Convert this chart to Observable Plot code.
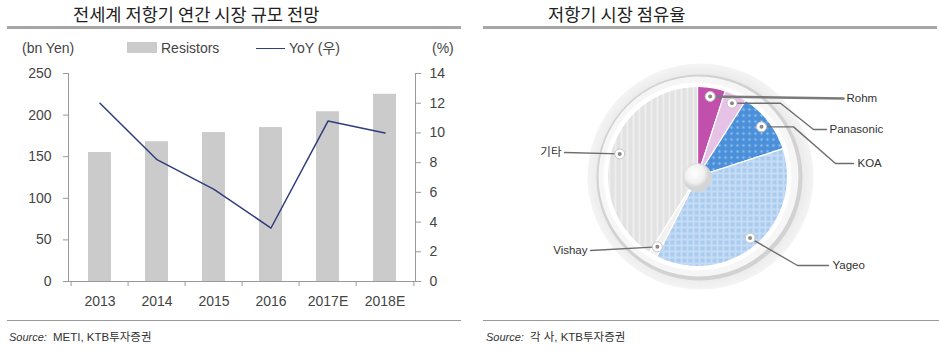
<!DOCTYPE html>
<html><head><meta charset="utf-8">
<script src="https://cdn.jsdelivr.net/npm/d3@7"></script>
<script src="https://cdn.jsdelivr.net/npm/@observablehq/plot@0.6"></script>
<style>
body{margin:0;background:#fff;font-family:"Liberation Sans",Arial,"Noto Sans CJK KR",sans-serif;}
#page{position:relative;width:941px;height:353px;overflow:hidden;background:#fff;}
.abs{position:absolute;white-space:nowrap;}
.title{font-family:"Noto Sans CJK KR",sans-serif;font-size:17.6px;line-height:20px;color:#222;}
.hr{position:absolute;background:#a6a6a6;}
.lg{font-size:14px;line-height:16px;color:#444;}
.src{font-size:11.5px;line-height:14px;color:#333;}
.src i{font-size:11px;margin-right:6px;}
svg{overflow:visible;}
</style></head>
<body>
<div id="page">
  <div class="abs title" style="left:73px;top:4px;">전세계 저항기 연간 시장 규모 전망</div>
  <div class="hr" style="left:7px;top:26px;width:454px;height:3px;"></div>
  <div class="abs title" style="left:548px;top:4px;">저항기 시장 점유율</div>
  <div class="hr" style="left:483px;top:26px;width:454px;height:3px;"></div>

  <div class="abs lg" style="left:22px;top:40px;">(bn Yen)</div>
  <div class="abs" style="left:127px;top:42px;width:30px;height:11px;background:#cbcbcb;"></div>
  <div class="abs lg" style="left:161px;top:40px;">Resistors</div>
  <div class="abs" style="left:256px;top:47.5px;width:29px;height:1.3px;background:#2e3d7c;"></div>
  <div class="abs lg" style="left:289px;top:40px;">YoY (우)</div>
  <div class="abs lg" style="left:432px;top:40px;">(%)</div>

  <div id="left" class="abs" style="left:0;top:60px;"></div>
  <div id="right" class="abs" style="left:470px;top:40px;"></div>

  <div class="hr" style="left:7px;top:320px;width:454px;height:1px;background:#9a9a9a;"></div>
  <div class="hr" style="left:483px;top:320px;width:456px;height:1px;background:#9a9a9a;"></div>
  <div class="abs src" style="left:9px;top:330px;"><i>Source:</i>METI, KTB투자증권</div>
  <div class="abs src" style="left:486px;top:330px;"><i>Source:</i>각 사, KTB투자증권</div>
</div>
<script>
// ---- data: left chart ----
const years = ["2013", "2014", "2015", "2016", "2017E", "2018E"];
const resistors = [155, 168, 179, 185, 204, 225];   // bn Yen
const yoy = [12.0, 8.2, 6.2, 3.6, 10.8, 10.0];      // %
const leftTicks = [0, 50, 100, 150, 200, 250];
const rightTicks = [0, 2, 4, 6, 8, 10, 12, 14];

// ---- data: right chart ----
const companies = ["Rohm", "Panasonic", "KOA", "Yageo", "Vishay", "기타"];
const shares = [5, 4, 11, 37.5, 1.5, 41];           // %

// ---- styles ----
const sliceFills = ["#c150ad", "#e7c2e7", "url(#pKOA)", "url(#pYageo)", "#f1f1f1", "url(#pEtc)"];
const font = `"Liberation Sans", Arial, "Noto Sans CJK KR", sans-serif`;

// ================= LEFT CHART =================
const k = 250 / 14; // right-axis (%) to left-axis (bn Yen) factor
const rows = years.map((y, i) => ({year: y, value: resistors[i], yoy: yoy[i]}));
const W = 470, H = 255, mL = 68, mR = 55, mT = 13, mB = 34;
const step = (W - mL - mR) / years.length;

const left = Plot.plot({
  width: W, height: H, marginTop: mT, marginBottom: mB, marginLeft: mL, marginRight: mR,
  style: {fontFamily: font, fontSize: "14px", color: "#444", background: "transparent", overflow: "visible"},
  x: {domain: years, type: "band", paddingInner: 0.6, paddingOuter: 0.3, axis: null},
  y: {domain: [0, 250], axis: null},
  marks: [
    Plot.barY(rows, {x: "year", y: "value", fill: "#cbcbcb"}),
    Plot.frame({anchor: "left", stroke: "#9a9a9a"}),
    Plot.frame({anchor: "right", stroke: "#9a9a9a"}),
    Plot.ruleY([0], {stroke: "#9a9a9a"}),
    Plot.ruleX(years, {x: d => d, y1: 0, y2: -6, dx: -step / 2, stroke: "#9a9a9a"}),
    Plot.ruleX([years[years.length - 1]], {x: d => d, y1: 0, y2: -6, dx: step / 2, stroke: "#9a9a9a"}),
    Plot.axisY({anchor: "left", label: null, ticks: leftTicks, tickSize: 5, tickPadding: 12, stroke: "#9a9a9a", fill: "#444"}),
    Plot.axisY({anchor: "right", label: null, ticks: rightTicks.map(t => t * k), tickFormat: d => String(Math.round(d / k)),
      tickSize: 5, tickPadding: 9, stroke: "#9a9a9a", fill: "#444"}),
    Plot.axisX({anchor: "bottom", label: null, tickSize: 0, tickPadding: 15, fill: "#444"}),
    Plot.line(rows, {x: "year", y: d => d.yoy * k, stroke: "#2e3d7c", strokeWidth: 1.5})
  ]
});
document.getElementById("left").appendChild(left);

// ================= RIGHT CHART (pie) =================
const RW = 471, RH = 275;
const CX = 697, CY = 176, R = 90;          // page coords of pie centre, radius in px
const OX = 470, OY = 40;                    // svg offset on page
const cxs = CX - OX, cys = CY - OY;
const ux = px => (px - CX) / R, uy = py => (CY - py) / R;

const arcs = d3.pie().sort(null).value(d => d)(shares);
const slicePts = [];
arcs.forEach((a, i) => {
  const n = Math.max(4, Math.ceil((a.endAngle - a.startAngle) / 0.02));
  slicePts.push({name: companies[i], x: 0, y: 0});
  for (let j = 0; j <= n; j++) {
    const t = a.startAngle + (a.endAngle - a.startAngle) * j / n;
    slicePts.push({name: companies[i], x: Math.sin(t), y: Math.cos(t)});
  }
  slicePts.push({name: companies[i], x: 0, y: 0});
});
const dotR = 0.9;
const dots = arcs.map((a, i) => {
  const m = (a.startAngle + a.endAngle) / 2;
  return {name: companies[i], x: dotR * Math.sin(m), y: dotR * Math.cos(m)};
});

// leader layout (page px); null y => use the dot's own y
const leaderLayout = {
  "Rohm":      {pts: [[843, 98]], text: [846, 98], anchor: "start"},
  "Panasonic": {pts: [[780, null], [813, 129], [826, 129]], text: [829, 129], anchor: "start"},
  "KOA":       {pts: [[793, null], [835, 163], [853, 163]], text: [857, 163], anchor: "start"},
  "Yageo":     {pts: [[797, 265], [828, 265]], text: [832, 265], anchor: "start"},
  "Vishay":    {pts: [[590, 250]], text: [587, 250], anchor: "end"},
  "기타":      {pts: [[564, 152]], text: [561, 152], anchor: "end"}
};
const leaders = [], labels = [];
dots.forEach(d => {
  const L = leaderLayout[d.name];
  leaders.push({name: d.name, x: d.x, y: d.y});
  L.pts.forEach(p => leaders.push({name: d.name, x: ux(p[0]), y: p[1] == null ? d.y : uy(p[1])}));
  labels.push({name: d.name, x: ux(L.text[0]), y: uy(L.text[1]), anchor: L.anchor});
});

const right = Plot.plot({
  width: RW, height: RH, margin: 0,
  style: {fontFamily: font, fontSize: "11.5px", background: "transparent", overflow: "visible"},
  x: {domain: [-cxs / R, (RW - cxs) / R], axis: null},
  y: {domain: [-(RH - cys) / R, cys / R], axis: null},
  color: {domain: companies, range: sliceFills},
  marks: [
    // decorative bezel
    Plot.dot([0], {x: () => 0, y: () => 0, r: 113, dx: 3, fill: "url(#bezel)"}),
    Plot.dot([0], {x: () => 0, y: () => 0, r: 103, dx: 2, dy: 1, fill: "#d2d2d2"}),
    Plot.dot([0], {x: () => 0, y: () => 0, r: 100, dx: 1, fill: "#f6f6f6"}),
    Plot.dot([0], {x: () => 0, y: () => 0, r: 94, fill: "#ffffff"}),
    // slices
    Plot.line(slicePts, {x: "x", y: "y", z: "name", fill: "name", stroke: "#ffffff", strokeWidth: 1.2, curve: "linear"}),
    // centre knob
    Plot.dot([0], {x: () => 0, y: () => 0, r: 14, dy: 1, fill: "url(#knob)", stroke: "#d6d6d6", strokeWidth: 0.8}),
    // leaders
    Plot.line(leaders.filter(d => d.name === "Rohm"), {x: "x", y: "y", z: "name", stroke: "#7a7a7a", strokeWidth: 2.6}),
    Plot.line(leaders.filter(d => d.name !== "Rohm"), {x: "x", y: "y", z: "name", stroke: "#6e6e6e", strokeWidth: 1.4}),
    Plot.dot(dots, {x: "x", y: "y", r: 5, fill: "#ffffff", stroke: "#c4c4c4", strokeWidth: 1}),
    Plot.dot(dots, {x: "x", y: "y", r: 2, fill: "#8a8a8a"}),
    Plot.text(labels.filter(d => d.anchor === "start"), {x: "x", y: "y", text: "name", textAnchor: "start", fill: "#333"}),
    Plot.text(labels.filter(d => d.anchor === "end"), {x: "x", y: "y", text: "name", textAnchor: "end", fill: "#333"})
  ]
});
// gradient / pattern defs for decoration
const defs = d3.select(right).insert("defs", ":first-child");
const bz = defs.append("radialGradient").attr("id", "bezel");
bz.append("stop").attr("offset", "80%").attr("stop-color", "#d9d9d9");
bz.append("stop").attr("offset", "90%").attr("stop-color", "#ebebeb");
bz.append("stop").attr("offset", "100%").attr("stop-color", "#f4f4f4");
const kn = defs.append("radialGradient").attr("id", "knob").attr("cx", "40%").attr("cy", "35%");
kn.append("stop").attr("offset", "0%").attr("stop-color", "#ffffff");
kn.append("stop").attr("offset", "70%").attr("stop-color", "#f0f0f0");
kn.append("stop").attr("offset", "100%").attr("stop-color", "#d4d4d4");
// 기타: vertical stripes
const pe = defs.append("pattern").attr("id", "pEtc").attr("patternUnits", "userSpaceOnUse").attr("width", 6).attr("height", 6);
pe.append("rect").attr("width", 6).attr("height", 6).attr("fill", "#e2e2e2");
pe.append("rect").attr("width", 2).attr("height", 6).attr("fill", "#eeeeee");
// Yageo: light grid
const py = defs.append("pattern").attr("id", "pYageo").attr("patternUnits", "userSpaceOnUse").attr("width", 6).attr("height", 6);
py.append("rect").attr("width", 6).attr("height", 6).attr("fill", "#a9cbf0");
py.append("rect").attr("width", 6).attr("height", 2).attr("fill", "#c6dcf5");
py.append("rect").attr("width", 2).attr("height", 6).attr("fill", "#c6dcf5");
// KOA: dotted blue
const pk = defs.append("pattern").attr("id", "pKOA").attr("patternUnits", "userSpaceOnUse").attr("width", 6).attr("height", 6);
pk.append("rect").attr("width", 6).attr("height", 6).attr("fill", "#4a8fd9");
pk.append("circle").attr("cx", 3).attr("cy", 3).attr("r", 1.3).attr("fill", "#8fbbea");
document.getElementById("right").appendChild(right);
</script>
</body></html>
